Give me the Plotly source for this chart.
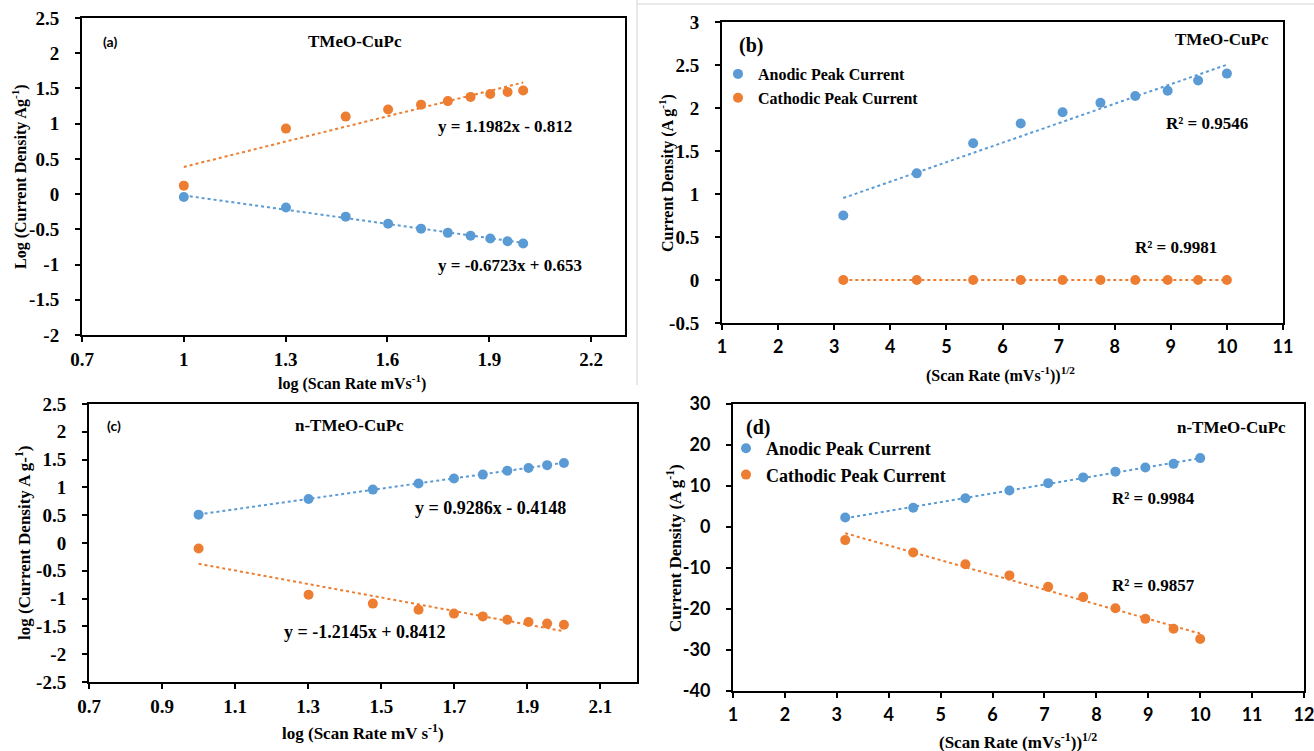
import numpy as np
import plotly.graph_objects as go

W, H = 1314, 751

# ---------------- data ----------------
scan_rates = [10, 20, 30, 40, 50, 60, 70, 80, 90, 100]
log_scan = [1.0, 1.301, 1.477, 1.602, 1.699, 1.778, 1.845, 1.903, 1.954, 2.0]
sqrt_scan = [3.162, 4.472, 5.477, 6.325, 7.071, 7.746, 8.367, 8.944, 9.487, 10.0]

# (a) TMeO-CuPc, log-log
a_orange = [0.12, 0.93, 1.10, 1.20, 1.27, 1.32, 1.38, 1.42, 1.45, 1.47]
a_blue = [-0.04, -0.19, -0.32, -0.42, -0.49, -0.55, -0.59, -0.63, -0.67, -0.70]
a_fit_orange = (1.1982, -0.812)
a_fit_blue = (-0.6723, 0.653)

# (b) TMeO-CuPc, current density vs sqrt(scan rate)
b_anodic = [0.75, 1.24, 1.59, 1.82, 1.95, 2.06, 2.14, 2.20, 2.32, 2.40]
b_cathodic = [0.0, 0.0, 0.0, 0.0, 0.0, 0.0, 0.0, 0.0, 0.0, 0.0]

# (c) n-TMeO-CuPc, log-log
c_blue = [0.51, 0.79, 0.96, 1.07, 1.16, 1.23, 1.30, 1.35, 1.40, 1.44]
c_orange = [-0.10, -0.93, -1.09, -1.20, -1.27, -1.32, -1.38, -1.42, -1.45, -1.47]
c_fit_blue = (0.9286, -0.4148)
c_fit_orange = (-1.2145, 0.8412)

# (d) n-TMeO-CuPc, current density vs sqrt(scan rate)
d_anodic = [2.3, 4.7, 7.0, 8.9, 10.7, 12.1, 13.5, 14.5, 15.4, 16.8]
d_cathodic = [-3.2, -6.2, -9.1, -11.8, -14.6, -17.1, -19.8, -22.4, -24.8, -27.3]

# tick labels
a_xticks = [0.7, 1.0, 1.3, 1.6, 1.9, 2.2]
a_xtext = ["0.7", "1", "1.3", "1.6", "1.9", "2.2"]
a_yticks = [-2, -1.5, -1, -0.5, 0, 0.5, 1, 1.5, 2, 2.5]
a_ytext = ["-2", "-1.5", "-1", "-0.5", "0", "0.5", "1", "1.5", "2", "2.5"]
b_xticks = list(range(1, 12))
b_yticks = [-0.5, 0, 0.5, 1, 1.5, 2, 2.5, 3]
b_ytext = ["-0.5", "0", "0.5", "1", "1.5", "2", "2.5", "3"]
c_xticks = [0.7, 0.9, 1.1, 1.3, 1.5, 1.7, 1.9, 2.1]
c_xtext = ["0.7", "0.9", "1.1", "1.3", "1.5", "1.7", "1.9", "2.1"]
c_yticks = [-2.5, -2, -1.5, -1, -0.5, 0, 0.5, 1, 1.5, 2, 2.5]
c_ytext = ["-2.5", "-2", "-1.5", "-1", "-0.5", "0", "0.5", "1", "1.5", "2", "2.5"]
d_xticks = list(range(1, 13))
d_yticks = [-40, -30, -20, -10, 0, 10, 20, 30]

BLUE = "#5B9BD5"
ORANGE = "#ED7D31"
SERIF = "Liberation Serif"
SANS = "Lato"


def px(x):
    return x / W


def py(y):
    return 1 - y / H


def fit_line(xs, ys):
    k, b = np.polyfit(xs, ys, 1)
    xx = np.array([xs[0], xs[-1]])
    return xx, k * xx + b


def eq_line(xs, coef):
    xx = np.array([xs[0], xs[-1]])
    return xx, coef[0] * xx + coef[1]


fig = go.Figure()


def add_series(xs, ys, color, xa, ya, name=None, legend=None):
    fig.add_trace(go.Scatter(
        x=xs, y=ys, mode="markers", name=name or "",
        marker=dict(color=color, size=10),
        xaxis=xa, yaxis=ya,
        showlegend=legend is not None,
        legend=legend if legend else "legend",
    ))


def add_trend(xx, yy, color, xa, ya):
    fig.add_trace(go.Scatter(
        x=xx, y=yy, mode="lines",
        line=dict(color=color, width=2, dash="dot"),
        xaxis=xa, yaxis=ya, showlegend=False, hoverinfo="skip",
    ))


# (a)
xx, yy = eq_line(log_scan, a_fit_orange)
add_trend(xx, yy, ORANGE, "x", "y")
xx, yy = eq_line(log_scan, a_fit_blue)
add_trend(xx, yy, BLUE, "x", "y")
add_series(log_scan, a_orange, ORANGE, "x", "y")
add_series(log_scan, a_blue, BLUE, "x", "y")

# (b)
xx, yy = fit_line(sqrt_scan, b_anodic)
add_trend(xx, yy, BLUE, "x2", "y2")
xx, yy = fit_line(sqrt_scan, b_cathodic)
add_trend(xx, yy, ORANGE, "x2", "y2")
add_series(sqrt_scan, b_anodic, BLUE, "x2", "y2", "Anodic Peak Current", "legend")
add_series(sqrt_scan, b_cathodic, ORANGE, "x2", "y2", "Cathodic Peak Current", "legend")

# (c)
xx, yy = eq_line(log_scan, c_fit_blue)
add_trend(xx, yy, BLUE, "x3", "y3")
xx, yy = eq_line(log_scan, c_fit_orange)
add_trend(xx, yy, ORANGE, "x3", "y3")
add_series(log_scan, c_blue, BLUE, "x3", "y3")
add_series(log_scan, c_orange, ORANGE, "x3", "y3")

# (d)
xx, yy = fit_line(sqrt_scan, d_anodic)
add_trend(xx, yy, BLUE, "x4", "y4")
xx, yy = fit_line(sqrt_scan, d_cathodic)
add_trend(xx, yy, ORANGE, "x4", "y4")
add_series(sqrt_scan, d_anodic, BLUE, "x4", "y4", "Anodic Peak Current", "legend2")
add_series(sqrt_scan, d_cathodic, ORANGE, "x4", "y4", "Cathodic Peak Current", "legend2")


def axis(dom, rng, tickvals, ticktext, anchor, family, size, standoff):
    return dict(
        domain=dom, range=rng, anchor=anchor,
        tickmode="array", tickvals=tickvals,
        ticktext=["<b>%s</b>" % t for t in ticktext],
        showline=True, mirror=True, linecolor="black", linewidth=2,
        ticks="outside", ticklen=5, tickwidth=1.5, tickcolor="black",
        showgrid=False, zeroline=False,
        tickfont=dict(family=family, size=size, color="black", weight=700),
        ticklabelstandoff=standoff,
        ticklabeloverflow="allow",
        automargin=False,
    )


XS, YS = 1, 12
layout = dict(
    width=W, height=H,
    margin=dict(l=0, r=0, t=0, b=0, autoexpand=False),
    paper_bgcolor="white", plot_bgcolor="white",
    showlegend=True,
    xaxis=axis([px(82), px(625)], [0.7, 2.3], a_xticks, a_xtext, "y", SERIF, 19, XS),
    yaxis=axis([py(335), py(18)], [-2, 2.5], a_yticks, a_ytext, "x", SERIF, 19, YS),
    xaxis2=axis([px(722), px(1283)], [1, 11], b_xticks, [str(v) for v in b_xticks], "y2", SANS, 18, XS),
    yaxis2=axis([py(323), py(22)], [-0.5, 3], b_yticks, b_ytext, "x2", SERIF, 19, YS),
    xaxis3=axis([px(89), px(637)], [0.7, 2.2], c_xticks, c_xtext, "y3", SERIF, 19, XS),
    yaxis3=axis([py(682), py(404)], [-2.5, 2.5], c_yticks, c_ytext, "x3", SERIF, 19, YS),
    xaxis4=axis([px(733), px(1304)], [1, 12], d_xticks, [str(v) for v in d_xticks], "y4", SANS, 18, XS),
    yaxis4=axis([py(691), py(404)], [-40, 30], d_yticks, [str(v) for v in d_yticks], "x4", SANS, 18, YS),
    legend=dict(x=px(718), y=py(57), xanchor="left", yanchor="top",
                bgcolor="rgba(0,0,0,0)", itemwidth=30, tracegroupgap=0,
                font=dict(family=SERIF, size=16, color="black", weight="bold")),
    legend2=dict(x=px(726), y=py(430), xanchor="left", yanchor="top",
                 bgcolor="rgba(0,0,0,0)", itemwidth=30, tracegroupgap=0,
                 font=dict(family=SERIF, size=18, color="black", weight="bold")),
)

# text labels: (text, x_px, y_px, size, family, xanchor, angle)
labels = [
    ("(a)", 110, 42, 14, SANS, "center", 0),
    ("TMeO-CuPc", 355, 42, 17, SERIF, "center", 0),
    ("y = 1.1982x - 0.812", 505, 127, 17, SERIF, "center", 0),
    ("y = -0.6723x + 0.653", 510, 265, 17, SERIF, "center", 0),
    ("Log (Current Density Ag<sup>-1</sup>)", 19, 177, 16, SERIF, "center", -90),
    ("log (Scan Rate mVs<sup>-1</sup>)", 352, 382, 16, SERIF, "center", 0),
    ("(b)", 751, 45, 20, SERIF, "center", 0),
    ("TMeO-CuPc", 1271, 39, 17, SERIF, "right", 0),
    ("R² = 0.9546", 1207, 123, 17, SERIF, "center", 0),
    ("R² = 0.9981", 1176, 247, 17, SERIF, "center", 0),
    ("Current Density (A g<sup>-1</sup>)", 667, 173, 16, SERIF, "center", -90),
    ("(Scan Rate (mVs<sup>-1</sup>))<sup>1/2</sup>", 1000, 375, 16, SERIF, "center", 0),
    ("(c)", 114, 425, 14, SANS, "center", 0),
    ("n-TMeO-CuPc", 349, 425, 17, SERIF, "center", 0),
    ("y = 0.9286x - 0.4148", 490, 508, 18, SERIF, "center", 0),
    ("y = -1.2145x + 0.8412", 365, 632, 18, SERIF, "center", 0),
    ("log (Scan Rate mV s<sup>-1</sup>)", 363, 732, 17, SERIF, "center", 0),
    ("log (Current Density A g-<sup>1</sup>)", 23, 543, 17, SERIF, "center", -90),
    ("(d)", 758, 427, 20, SERIF, "center", 0),
    ("n-TMeO-CuPc", 1288, 427, 17, SERIF, "right", 0),
    ("R² = 0.9984", 1153, 498, 17, SERIF, "center", 0),
    ("R² = 0.9857", 1153, 585, 17, SERIF, "center", 0),
    ("(Scan Rate (mVs<sup>-1</sup>))<sup>1/2</sup>", 1018, 741, 17, SERIF, "center", 0),
    ("Current Density (A g<sup>-1</sup>)", 674, 548, 17, SERIF, "center", -90),
]

annotations = []
for text, x, y, size, fam, xanc, ang in labels:
    annotations.append(dict(
        text="<b>%s</b>" % text, x=px(x), y=py(y), xref="paper", yref="paper",
        xanchor=xanc, yanchor="middle", showarrow=False, textangle=ang,
        font=dict(family=fam, size=size, color="black"),
    ))
layout["annotations"] = annotations

layout["shapes"] = [
    dict(type="line", xref="paper", yref="paper", x0=px(637), x1=px(637), y0=py(0), y1=py(385),
         line=dict(color="#d4d4d4", width=1)),
    dict(type="line", xref="paper", yref="paper", x0=px(637), x1=px(1314), y0=py(4), y1=py(4),
         line=dict(color="#d4d4d4", width=1)),
]

fig.update_layout(**layout)
fig.write_html("out.html")
